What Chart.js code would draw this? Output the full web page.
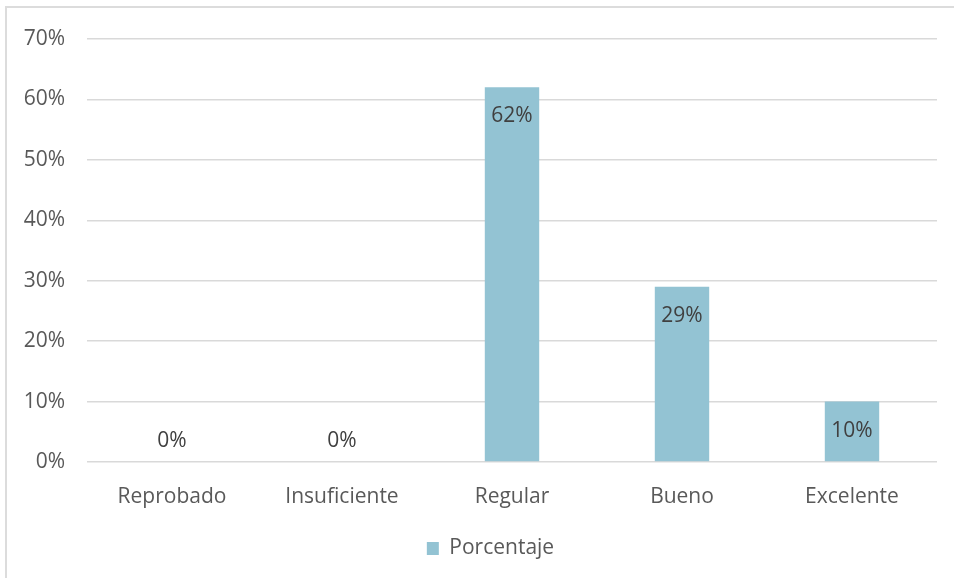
<!DOCTYPE html>
<html>
<head>
<meta charset="utf-8">
<script src="https://cdn.jsdelivr.net/npm/chart.js@4"></script>
<style>
  html, body { margin: 0; padding: 0; background: #fff; }
  #wrap { position: relative; width: 954px; height: 578px; overflow: hidden; }
  #frame { position: absolute; left: 5px; top: 6px; right: -10px; bottom: -10px;
           border-left: 2px solid #DCDCDC; border-top: 2px solid #DCDCDC; }
  canvas { position: absolute; left: 0; top: 0; }
</style>
</head>
<body>
<div id="wrap">
  <div id="frame"></div>
  <canvas id="c" width="954" height="578"></canvas>
</div>
<script>
// Distribución de calificaciones (porcentaje por nivel)
const categories = ['Reprobado', 'Insuficiente', 'Regular', 'Bueno', 'Excelente'];
const porcentaje = [0, 0, 62, 29, 10];
const yTicks = [0, 10, 20, 30, 40, 50, 60, 70];

const FONT = '"Open Sans", "Liberation Sans", sans-serif';
const FSIZE = 21;
const TEXT = '#595959';
const BAR = '#93C3D3';

// Etiquetas de valor: dentro del extremo de la barra, o sobre la base si el valor es 0
const valueLabels = {
  id: 'valueLabels',
  afterDatasetsDraw(chart) {
    const ctx = chart.ctx;
    const meta = chart.getDatasetMeta(0);
    ctx.save();
    ctx.font = FSIZE + 'px ' + FONT;
    ctx.fillStyle = '#404040';
    ctx.textAlign = 'center';
    ctx.textBaseline = 'middle';
    meta.data.forEach((bar, i) => {
      const v = porcentaje[i];
      const y = v > 0 ? bar.y + 29 : bar.y - 21;
      ctx.fillText(Math.round(v) + '%', bar.x, y);
    });
    ctx.restore();
  }
};

// Desplaza la leyenda hacia la derecha, centrada bajo el área de trazado
const legendShift = {
  id: 'legendShift',
  afterLayout(chart) {
    const lg = chart.legend;
    if (lg) { lg.left += 44; lg.right += 0; }
  }
};

new Chart(document.getElementById('c'), {
  type: 'bar',
  data: {
    labels: categories,
    datasets: [{
      label: 'Porcentaje',
      data: porcentaje,
      backgroundColor: BAR,
      borderWidth: 0,
      categoryPercentage: 1,
      barPercentage: 0.32
    }]
  },
  options: {
    responsive: false,
    animation: false,
    layout: { padding: { left: 0, right: 17, top: 39, bottom: 9 } },
    plugins: {
      tooltip: { enabled: false },
      legend: {
        position: 'bottom',
        labels: {
          boxWidth: 12, boxHeight: 13, padding: 10,
          color: TEXT,
          font: { family: FONT, size: FSIZE }
        }
      }
    },
    scales: {
      x: {
        grid: { display: false, drawTicks: false },
        border: { display: false },
        ticks: { color: TEXT, font: { family: FONT, size: FSIZE }, padding: 22 },
        afterFit(s) { s.height = 66; }
      },
      y: {
        min: 0, max: 70,
        afterBuildTicks(s) { s.ticks = yTicks.map(v => ({ value: v })); },
        grid: { color: '#D9D9D9', lineWidth: 1.5, drawTicks: false },
        border: { display: false },
        ticks: {
          color: TEXT, font: { family: FONT, size: FSIZE }, padding: 22,
          callback: v => v + '%'
        },
        afterFit(s) { s.width = 87; }
      }
    }
  },
  plugins: [valueLabels, legendShift]
});
</script>
</body>
</html>
